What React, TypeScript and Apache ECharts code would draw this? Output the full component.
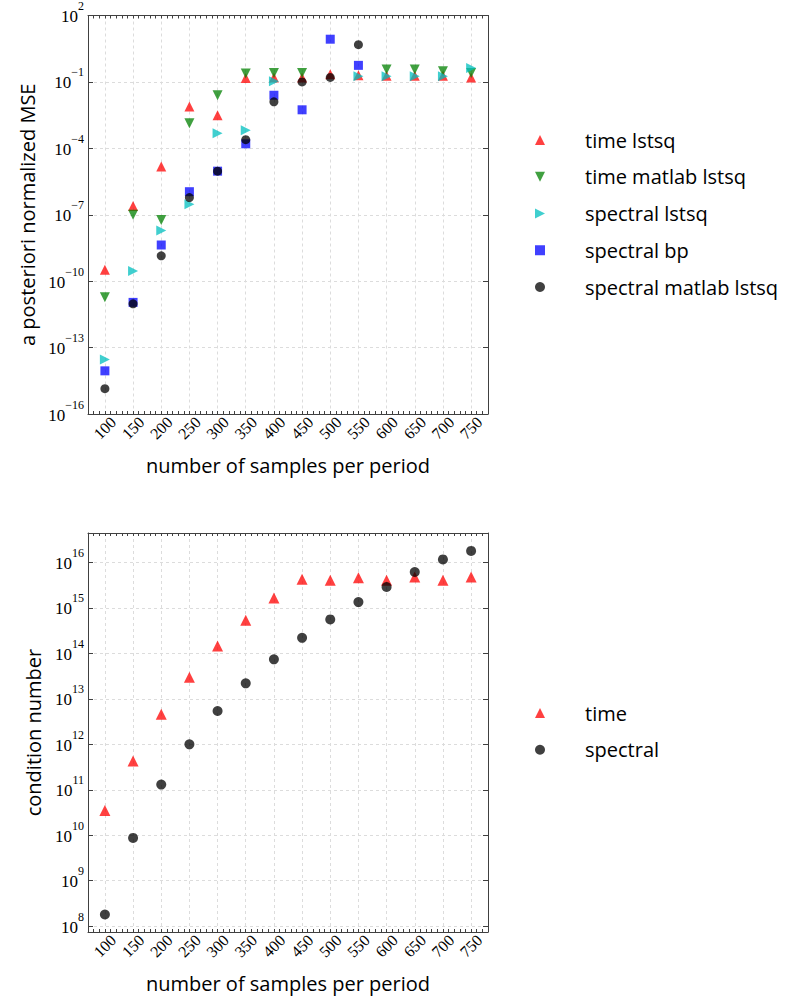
import React, { useEffect, useRef } from "react";
import * as echarts from "echarts";

// ---- data ----
const samples = [100, 150, 200, 250, 300, 350, 400, 450, 500, 550, 600, 650, 700, 750];

// a posteriori normalized MSE
const timeLstsq = [3.3e-10, 2.5e-7, 1.5e-5, 7.8e-3, 3.1e-3, 0.15, 0.16, 0.16, 0.22, 0.2, 0.19, 0.19, 0.19, 0.16];
const timeMatlabLstsq = [1.9e-11, 1.0e-7, 5.8e-8, 1.35e-3, 2.5e-2, 0.24, 0.25, 0.25, null, null, 0.36, 0.36, 0.3, 0.25];
const spectralLstsq = [2.9e-14, 2.9e-10, 1.95e-8, 3.0e-7, 4.8e-4, 6.5e-4, 0.107, null, null, 0.18, 0.18, 0.18, 0.18, 0.43];
const spectralBp = [8.9e-15, 1.1e-11, 4.3e-9, 1.1e-6, 9.3e-6, 1.6e-4, 2.5e-2, 5.5e-3, 8.5, 0.56, null, null, null, null];
const spectralMatlabLstsq = [1.4e-15, 9.5e-12, 1.4e-9, 6.0e-7, 9.3e-6, 2.45e-4, 1.26e-2, 0.1, 0.16, 4.8, null, null, null, null];

// condition number
const condTime = [3.5e10, 4.3e11, 4.6e12, 3.0e13, 1.45e14, 5.4e14, 1.66e15, 4.3e15, 4.1e15, 4.6e15, 4.1e15, 4.8e15, 4.1e15, 4.8e15];
const condSpectral = [1.8e8, 8.7e9, 1.3e11, 1.0e12, 5.4e12, 2.2e13, 7.4e13, 2.2e14, 5.6e14, 1.35e15, 2.9e15, 6.2e15, 1.17e16, 1.8e16];

// axis ranges (decades)
const mseExpMin = -16;
const mseExpMax = 2;
const mseExpStep = 3;
const condExpMin = 7.87;
const condExpMax = 16.65;
const xMin = 70;
const xMax = 780;
const xLabelStep = 50;

const topNames = ["time lstsq", "time matlab lstsq", "spectral lstsq", "spectral bp", "spectral matlab lstsq"];
const bottomNames = ["time", "spectral"];

const SERIF = "'Liberation Serif', 'DejaVu Serif', serif";
const SANS = "'Open Sans', 'Noto Sans', sans-serif";
const GRID_COLOR = "#dcdcdc";
const FRAME_COLOR = "#404040";

const TRI_UP = "triangle";
const TRI_DOWN = "path://M0,0 L10,0 L5,10 Z";
const TRI_RIGHT = "path://M0,0 L10,5 L0,10 Z";

const toPts = (vals: (number | null)[]) =>
  samples
    .map((x, i) => (vals[i] == null ? null : [x, Math.log10(vals[i] as number)]))
    .filter((p) => p !== null);

const powLabel = (v: number) => {
  const r = Math.round(v);
  if (Math.abs(v - r) > 1e-6) return "";
  const e = r < 0 ? "\u2212" + -r : String(r);
  return "{b|10}{s|" + e + "}";
};

const richPow = {
  b: { fontFamily: SERIF, fontSize: 17, color: "#000", lineHeight: 25, verticalAlign: "bottom" },
  s: { fontFamily: SERIF, fontSize: 12, color: "#000", lineHeight: 12, verticalAlign: "top" },
};

const xSplitColors = ["transparent", "transparent", "transparent", GRID_COLOR, "transparent"];

function makeAxesForGrid(gridIndex: number, yMin: number, yMax: number, yInterval: number | null, yName: string, yNameGap: number) {
  const common = {
    gridIndex,
    axisLine: { onZero: false, lineStyle: { color: FRAME_COLOR, width: 1 } },
  };
  const xBottom: any = {
    ...common,
    type: "value",
    position: "bottom",
    min: xMin,
    max: xMax,
    interval: 10,
    axisTick: { inside: true, length: 3, lineStyle: { color: FRAME_COLOR } },
    axisLabel: {
      formatter: (v: number) => (v % xLabelStep === 0 ? String(v) : ""),
      rotate: 45,
      align: "center",
      verticalAlign: "middle",
      margin: 14,
      fontFamily: SERIF,
      fontSize: 16,
      color: "#000",
    },
    splitLine: { show: true, lineStyle: { color: xSplitColors, type: [3, 3], width: 1 } },
    name: "number of samples per period",
    nameLocation: "middle",
    nameGap: 41,
    nameTextStyle: { fontFamily: SANS, fontSize: 20, color: "#000" },
  };
  const xTop: any = {
    ...common,
    type: "value",
    position: "top",
    min: xMin,
    max: xMax,
    interval: 10,
    axisTick: { inside: true, length: 3, lineStyle: { color: FRAME_COLOR } },
    axisLabel: { show: false },
    splitLine: { show: false },
  };
  const yBase: any = {
    ...common,
    type: "value",
    min: yMin,
    max: yMax,
  };
  if (yInterval != null) yBase.interval = yInterval;
  else yBase.splitNumber = 9;
  const yLeft: any = {
    ...yBase,
    position: "left",
    axisTick: { inside: true, length: 5, lineStyle: { color: FRAME_COLOR } },
    axisLabel: { formatter: powLabel, rich: richPow, margin: 4, padding: [0, 0, 6, 0], showMinLabel: true, showMaxLabel: true },
    splitLine: { show: true, lineStyle: { color: GRID_COLOR, type: [3, 3], width: 1 } },
    name: yName,
    nameLocation: "middle",
    nameGap: yNameGap,
    nameTextStyle: { fontFamily: SANS, fontSize: 20, color: "#000" },
  };
  const yRight: any = {
    ...yBase,
    position: "right",
    axisTick: { inside: true, length: 5, lineStyle: { color: FRAME_COLOR } },
    axisLabel: { show: false },
    splitLine: { show: false },
  };
  return { x: [xBottom, xTop], y: [yLeft, yRight] };
}

export default function App() {
  const ref = useRef<HTMLDivElement>(null);

  useEffect(() => {
    if (!ref.current) return;
    const chart = echarts.init(ref.current, undefined, { renderer: "svg" });

    const top = makeAxesForGrid(0, mseExpMin, mseExpMax, mseExpStep, "a posteriori normalized MSE", 50);
    const bot = makeAxesForGrid(1, condExpMin, condExpMax, null, "condition number", 45);

    const styleOf = (color: string) => ({ color, opacity: 0.75 });
    const legendText = { fontFamily: SANS, fontSize: 20, color: "#000", lineHeight: 20, padding: [0, 0, 0, 35] };

    const option: any = {
      animation: false,
      backgroundColor: "#ffffff",
      grid: [
        { left: 88, width: 400, top: 14, height: 400 },
        { left: 88, width: 400, top: 533, height: 399 },
      ],
      xAxis: [...top.x, ...bot.x],
      yAxis: [...top.y, ...bot.y],
      legend: [
        {
          orient: "vertical",
          left: 530,
          top: 125,
          itemWidth: 10,
          itemHeight: 10,
          itemGap: 16.75,
          selectedMode: false,
          data: topNames,
          textStyle: legendText,
        },
        {
          orient: "vertical",
          left: 530,
          top: 698,
          itemWidth: 10,
          itemHeight: 10,
          itemGap: 16.75,
          selectedMode: false,
          data: bottomNames,
          textStyle: legendText,
        },
      ],
      series: [
        { name: topNames[0], type: "scatter", xAxisIndex: 0, yAxisIndex: 0, symbol: TRI_UP, symbolSize: 10, itemStyle: styleOf("#ff0000"), data: toPts(timeLstsq), silent: true },
        { name: topNames[1], type: "scatter", xAxisIndex: 0, yAxisIndex: 0, symbol: TRI_DOWN, symbolSize: 10, itemStyle: styleOf("#008000"), data: toPts(timeMatlabLstsq), silent: true },
        { name: topNames[2], type: "scatter", xAxisIndex: 0, yAxisIndex: 0, symbol: TRI_RIGHT, symbolSize: 10, itemStyle: styleOf("#00bfbf"), data: toPts(spectralLstsq), silent: true },
        { name: topNames[3], type: "scatter", xAxisIndex: 0, yAxisIndex: 0, symbol: "rect", symbolSize: 9, itemStyle: styleOf("#0000ff"), data: toPts(spectralBp), silent: true },
        { name: topNames[4], type: "scatter", xAxisIndex: 0, yAxisIndex: 0, symbol: "circle", symbolSize: 9, itemStyle: styleOf("#000000"), data: toPts(spectralMatlabLstsq), silent: true },
        { name: bottomNames[0], type: "scatter", xAxisIndex: 2, yAxisIndex: 2, symbol: TRI_UP, symbolSize: 11, itemStyle: styleOf("#ff0000"), data: toPts(condTime), silent: true },
        { name: bottomNames[1], type: "scatter", xAxisIndex: 2, yAxisIndex: 2, symbol: "circle", symbolSize: 10, itemStyle: styleOf("#000000"), data: toPts(condSpectral), silent: true },
      ],
    };

    chart.setOption(option);
    return () => chart.dispose();
  }, []);

  return (
    <div
      ref={ref}
      style={{ position: "absolute", left: 0, top: 0, width: 792, height: 1002, background: "#fff" }}
    />
  );
}
